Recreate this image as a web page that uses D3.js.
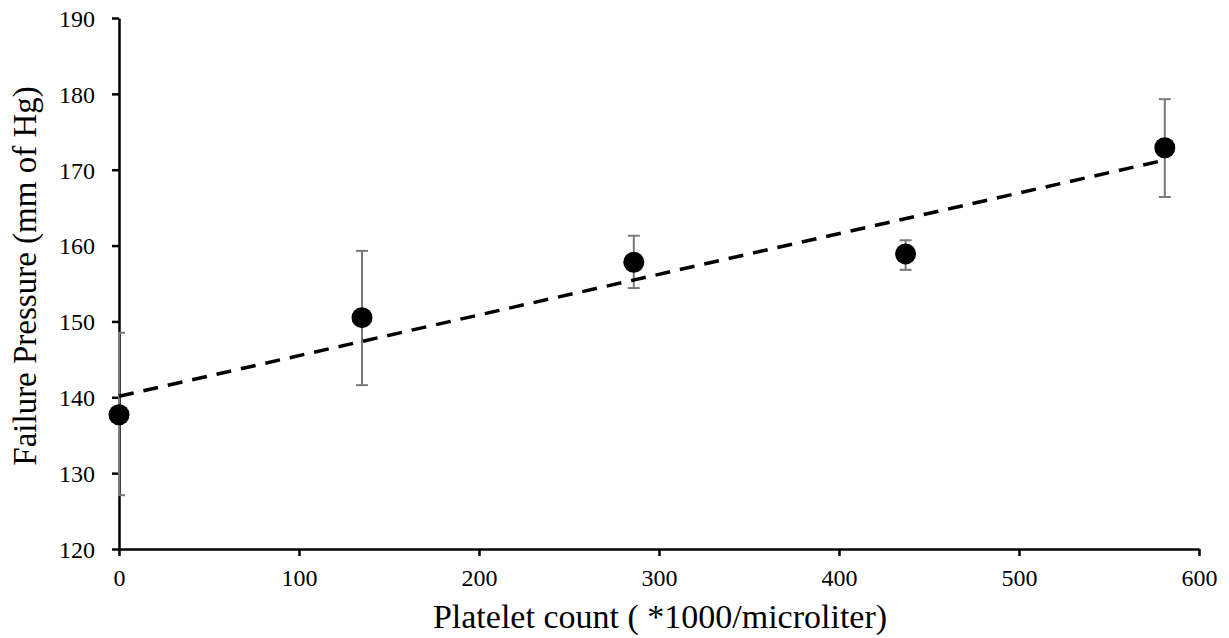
<!DOCTYPE html>
<html><head><meta charset="utf-8">
<script src="https://cdn.jsdelivr.net/npm/d3@7"></script>
<style>body{margin:0;background:#fff}svg{display:block}</style>
</head><body><svg id="c" width="1229" height="638"></svg>
<script>
const plateletCount = [0, 135, 286, 437, 581];
const failurePressure = [137.7, 150.5, 157.8, 158.9, 172.9];
const errUpper = [148.5, 159.3, 161.3, 160.7, 179.3];
const errLower = [127.1, 141.6, 154.4, 156.8, 166.4];
const xTicks = [0, 100, 200, 300, 400, 500, 600];
const yTicks = [120, 130, 140, 150, 160, 170, 180, 190];

const svg = d3.select("#c");
const x = d3.scaleLinear().domain([0, 600]).range([119, 1199]);
const y = d3.scaleLinear().domain([120, 190]).range([549, 18]);
const FONT = "Liberation Serif";

svg.append("clipPath").attr("id", "plotclip").append("rect")
  .attr("x", x(0) - 1).attr("y", 0).attr("width", 1229).attr("height", 638);

// axes
const xAxis = svg.append("g").attr("transform", `translate(0,${y(120)})`)
  .call(d3.axisBottom(x).tickValues(xTicks).tickSize(7).tickPadding(13).tickSizeOuter(0));
const yAxis = svg.append("g").attr("transform", `translate(${x(0)},0)`)
  .call(d3.axisLeft(y).tickValues(yTicks).tickSize(7).tickPadding(17).tickSizeOuter(0));
[xAxis, yAxis].forEach(a => {
  a.attr("font-family", FONT).attr("font-size", 24);
  a.select(".domain").attr("stroke", "#000").attr("stroke-width", 2.5);
  a.selectAll(".tick line").attr("stroke", "#000").attr("stroke-width", 2.5);
  a.selectAll(".tick text").attr("fill", "#000").attr("font-family", FONT);
});
yAxis.selectAll(".tick text").attr("dy", "0.35em");
xAxis.selectAll(".tick text").attr("dy", "0.71em");

// error bars
const eb = svg.append("g").attr("stroke", "#7a7a7a").attr("stroke-width", 2).attr("clip-path", "url(#plotclip)");
plateletCount.forEach((px, i) => {
  eb.append("line").attr("x1", x(px)).attr("x2", x(px)).attr("y1", y(errUpper[i])).attr("y2", y(errLower[i]));
  [errUpper[i], errLower[i]].forEach(v => eb.append("line").attr("x1", x(px) - 6).attr("x2", x(px) + 6).attr("y1", y(v)).attr("y2", y(v)));
});

// linear trend line
const mx = d3.mean(plateletCount), my = d3.mean(failurePressure);
const sxy = d3.sum(plateletCount, (v, i) => (v - mx) * (failurePressure[i] - my));
const sxx = d3.sum(plateletCount, v => (v - mx) ** 2);
const slope = sxy / sxx, intercept = my - slope * mx;
const trendX = [0, d3.max(plateletCount)];
svg.append("path")
  .attr("d", d3.line().x(d => x(d)).y(d => y(intercept + slope * d))(trendX))
  .attr("stroke", "#000").attr("stroke-width", 3.5).attr("stroke-dasharray", "15,10").attr("fill", "none");

// points
svg.append("g").selectAll("circle").data(plateletCount).join("circle")
  .attr("cx", d => x(d)).attr("cy", (d, i) => y(failurePressure[i])).attr("r", 10.5).attr("fill", "#000");

// titles
svg.append("text").attr("x", 660).attr("y", 628).attr("text-anchor", "middle")
  .attr("font-family", FONT).attr("font-size", 34).attr("fill", "#000").text("Platelet count ( *1000/microliter)");
svg.append("text").attr("transform", "translate(36,276) rotate(-90)").attr("text-anchor", "middle")
  .attr("font-family", FONT).attr("font-size", 33).attr("fill", "#000").text("Failure Pressure (mm of Hg)");
</script></body></html>
